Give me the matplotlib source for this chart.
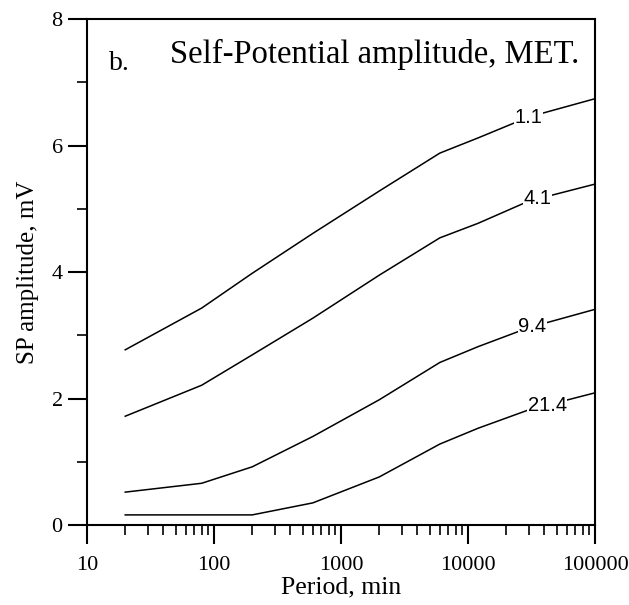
import numpy as np
import matplotlib.pyplot as plt
from matplotlib.ticker import LogLocator, NullFormatter, MultipleLocator

# period (min) and SP amplitude (mV) for each contour level
period = [20, 80, 200, 600, 2000, 6000, 12000, 30000, 100000]
sp_1_1 = [2.77, 3.43, 3.98, 4.61, 5.28, 5.88, 6.12, 6.45, 6.74]
sp_4_1 = [1.72, 2.21, 2.69, 3.27, 3.95, 4.54, 4.77, 5.12, 5.39]
sp_9_4 = [0.52, 0.66, 0.92, 1.40, 1.98, 2.57, 2.82, 3.12, 3.41]
sp_21_4 = [0.16, 0.16, 0.16, 0.35, 0.76, 1.28, 1.53, 1.82, 2.09]

levels = ["1.1", "4.1", "9.4", "21.4"]
label_x = [30000, 35000, 32000, 42000]

serif = "Liberation Serif"

fig = plt.figure(figsize=(6.29, 6.05), dpi=100)
ax = fig.add_axes([0.1383, 0.1322, 0.8077, 0.8364])

curves = [sp_1_1, sp_4_1, sp_9_4, sp_21_4]
for ys, lab, lx in zip(curves, levels, label_x):
    ax.plot(period, ys, color="black", lw=1.1, zorder=2)
    ly = np.interp(np.log10(lx), np.log10(period), ys)
    ax.text(lx, ly, lab, ha="center", va="center", fontsize=14.5,
            family="Liberation Sans", zorder=3,
            bbox=dict(facecolor="white", edgecolor="none", pad=0.3))

ax.set_xscale("log")
ax.set_xlim(10, 100000)
ax.set_ylim(0, 8)
ax.xaxis.set_minor_locator(LogLocator(base=10, subs=np.arange(2, 10), numticks=20))
ax.xaxis.set_minor_formatter(NullFormatter())
ax.set_xticks([10, 100, 1000, 10000, 100000])
ax.set_xticklabels(["10", "100", "1000", "10000", "100000"])
ax.yaxis.set_major_locator(MultipleLocator(2))
ax.yaxis.set_minor_locator(MultipleLocator(1))

ax.tick_params(which="major", direction="out", length=13.5, width=1.5,
               labelsize=16, pad=4)
ax.tick_params(axis="x", which="major", pad=9)
ax.tick_params(which="minor", direction="out", length=7, width=1.2)
for lbl in ax.get_xticklabels() + ax.get_yticklabels():
    lbl.set_family(serif)
for sp in ax.spines.values():
    sp.set_linewidth(1.5)

ax.set_xlabel("Period, min", family=serif, fontsize=18.5, labelpad=1)
ax.set_ylabel("SP amplitude, mV", family=serif, fontsize=18, labelpad=9)

ax.text(0.043, 0.9, "b.", transform=ax.transAxes, family=serif, fontsize=20)
ax.text(0.163, 0.914, "Self-Potential amplitude, MET.", transform=ax.transAxes,
        family=serif, fontsize=23.5)

fig.savefig("out.png", dpi=100)
